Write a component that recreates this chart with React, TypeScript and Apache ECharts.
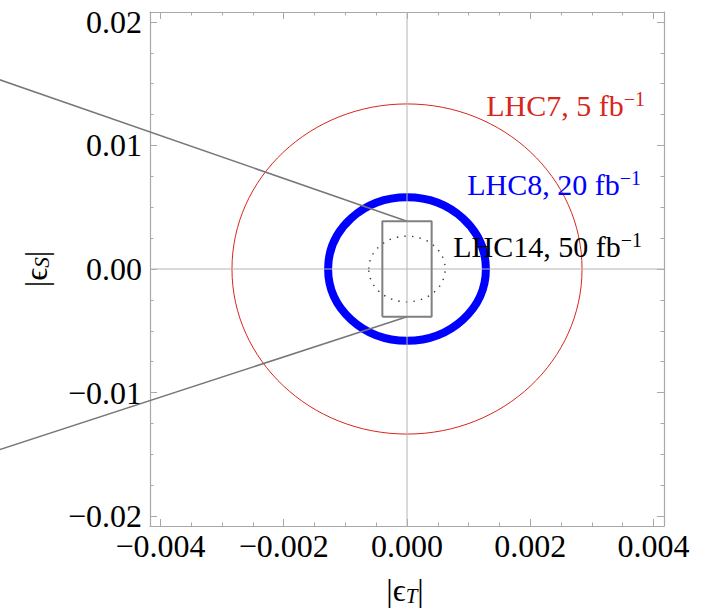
import React, { useEffect, useRef } from 'react';
import * as echarts from 'echarts';

const X_MIN = -0.00417;
const X_MAX = 0.00417;
const Y_MIN = -0.0208;
const Y_MAX = 0.0208;

const xMajorTicks = [-0.004, -0.002, 0, 0.002, 0.004];
const xMinorTicks = [-0.0035, -0.003, -0.0025, -0.0015, -0.001, -0.0005, 0.0005, 0.001, 0.0015, 0.0025, 0.003, 0.0035];
const yMajorTicks = [-0.02, -0.01, 0, 0.01, 0.02];
const yMinorTicks = [-0.0175, -0.015, -0.0125, -0.0075, -0.005, -0.0025, 0.0025, 0.005, 0.0075, 0.0125, 0.015, 0.0175];

// Ellipses (semi-axis along |eps_T|, semi-axis along |eps_S|)
const ellipseLabels = ['LHC7, 5 fb', 'LHC8, 20 fb', 'LHC14, 50 fb'];
const ellipseRx = [0.00284, 0.00128, 0.00062];
const ellipseRy = [0.01336, 0.0058, 0.00266];
const ellipseColors = ['#d8261c', '#0000ff', '#333333'];

// Box and zoom lines
const boxT = [-0.0004, 0.0004];
const boxS = [-0.00386, 0.00386];
const upperLine = [[-0.0068, 0.01565], [0, 0.00386]];
const lowerLine = [[-0.0068, -0.01493], [0, -0.00386]];

const SERIF = '"Liberation Serif", "Times New Roman", "DejaVu Serif", serif';
const FRAME = '#a8a8a8';

const fmt = (d: number) => (v: number) => (v < 0 ? '\u2212' : '') + Math.abs(v).toFixed(d);

function App() {
  const ref = useRef<HTMLDivElement>(null);
  useEffect(() => {
    if (!ref.current) return;
    const chart = echarts.init(ref.current, null, { renderer: 'svg' });

    const mkX = (pos: string, major: boolean, labels: boolean) => ({
      type: 'value', position: pos, min: X_MIN, max: X_MAX,
      axisLine: { show: major, onZero: false, lineStyle: { color: FRAME, width: 1.2 } },
      axisTick: { show: true, inside: true, length: major ? 7 : 3.5, customValues: major ? xMajorTicks : xMinorTicks, lineStyle: { color: FRAME, width: 1 } },
      axisLabel: labels ? { show: true, customValues: xMajorTicks, formatter: fmt(3), fontSize: 32, fontFamily: SERIF, color: '#000', margin: 4 } : { show: false },
      splitLine: { show: false },
    });
    const mkY = (pos: string, major: boolean, labels: boolean) => ({
      type: 'value', position: pos, min: Y_MIN, max: Y_MAX,
      axisLine: { show: major, onZero: false, lineStyle: { color: FRAME, width: 1.2 } },
      axisTick: { show: true, inside: true, length: major ? 7 : 3.5, customValues: major ? yMajorTicks : yMinorTicks, lineStyle: { color: FRAME, width: 1 } },
      axisLabel: labels ? { show: true, customValues: yMajorTicks, formatter: fmt(2), fontSize: 32, fontFamily: SERIF, color: '#000', margin: 8 } : { show: false },
      splitLine: { show: false },
    });

    const ellipseSeries = ellipseRx.map((rx, i) => ({
      type: 'custom', name: ellipseLabels[i], xAxisIndex: 0, yAxisIndex: 0,
      data: [[rx, ellipseRy[i]]],
      renderItem: (params: any, api: any) => {
        const c = api.coord([0, 0]);
        const s = api.size([api.value(0), api.value(1)]);
        return {
          type: 'ellipse',
          shape: { cx: c[0], cy: c[1], rx: s[0], ry: s[1] },
          style: {
            fill: 'none', stroke: ellipseColors[i],
            lineWidth: i === 0 ? 1 : i === 1 ? 8 : 1.4,
            lineDash: i === 2 ? [1.4, 6.2] : null,
          },
        };
      },
      clip: false,
    }));

    const segSeries = (seg: number[][], color: string, width: number) => ({
      type: 'custom', xAxisIndex: 0, yAxisIndex: 0, clip: false, silent: true,
      data: [[seg[0][0], seg[0][1], seg[1][0], seg[1][1]]],
      encode: { x: [0, 2], y: [1, 3] },
      renderItem: (params: any, api: any) => {
        const a = api.coord([api.value(0), api.value(1)]);
        const b = api.coord([api.value(2), api.value(3)]);
        return {
          type: 'line',
          shape: { x1: a[0], y1: a[1], x2: b[0], y2: b[1] },
          style: { stroke: color, lineWidth: width },
        };
      },
    });

    const lineSeries = (data: number[][], color: string, width: number) => ({
      type: 'line', xAxisIndex: 0, yAxisIndex: 0, data, showSymbol: false, symbol: 'none',
      clip: false, lineStyle: { color, width }, silent: true,
    });

    const boxData = [
      [boxT[0], boxS[0]], [boxT[1], boxS[0]], [boxT[1], boxS[1]], [boxT[0], boxS[1]], [boxT[0], boxS[0]],
    ];

    const supLabel = (text: string, color: string, x: number, baseline: number) => ({
      type: 'text', x, y: baseline - 25, z: 100,
      style: {
        text: `{a|${text}}{s|\u22121}`,
        fill: color, textAlign: 'right', textVerticalAlign: 'top',
        rich: {
          a: { fontSize: 30, fontFamily: SERIF, fill: color, lineHeight: 32 },
          s: { fontSize: 20, fontFamily: SERIF, fill: color, lineHeight: 20, verticalAlign: 'top' },
        },
      },
    });

    const titleRich = {
      a: { fontSize: 32, fontFamily: SERIF, fill: '#000', lineHeight: 32 },
      s: { fontSize: 21, fontFamily: SERIF, fontStyle: 'italic', fill: '#000', lineHeight: 14, verticalAlign: 'bottom' },
    };

    chart.setOption({
      animation: false,
      backgroundColor: '#ffffff',
      grid: { left: 150, right: 38, top: 12, bottom: 84, containLabel: false },
      xAxis: [mkX('bottom', true, true), mkX('bottom', false, false), mkX('top', true, false), mkX('top', false, false)],
      yAxis: [mkY('left', true, true), mkY('left', false, false), mkY('right', true, false), mkY('right', false, false)],
      series: [
        lineSeries([[X_MIN, 0], [X_MAX, 0]], '#b4b4b4', 1),
        lineSeries([[0, Y_MIN], [0, Y_MAX]], '#b4b4b4', 1),
        ...ellipseSeries,
        lineSeries(boxData, '#808080', 2),
        segSeries(upperLine, '#777777', 1.5),
        segSeries(lowerLine, '#777777', 1.5),
      ],
      graphic: [
        supLabel(ellipseLabels[0], ellipseColors[0], 645, 114),
        supLabel(ellipseLabels[1], ellipseColors[1], 641, 193),
        supLabel(ellipseLabels[2], '#000000', 642, 255),
        {
          type: 'text', x: 405, y: 590, z: 100,
          style: {
            text: '{a|\u007C\u03F5}{s|T}{a|\u007C}', textAlign: 'center', textVerticalAlign: 'middle', fill: '#000',
            rich: titleRich,
          },
        },
        {
          type: 'text', x: 36, y: 269, rotation: Math.PI / 2, z: 100,
          style: {
            text: '{a|\u007C\u03F5}{s|S}{a|\u007C}', textAlign: 'center', textVerticalAlign: 'middle', fill: '#000',
            rich: titleRich,
          },
        },
      ],
    });
    return () => chart.dispose();
  }, []);
  return <div ref={ref} style={{ position: 'fixed', left: 0, top: 0, width: 702, height: 610, background: '#fff' }} />;
}

export default App;
